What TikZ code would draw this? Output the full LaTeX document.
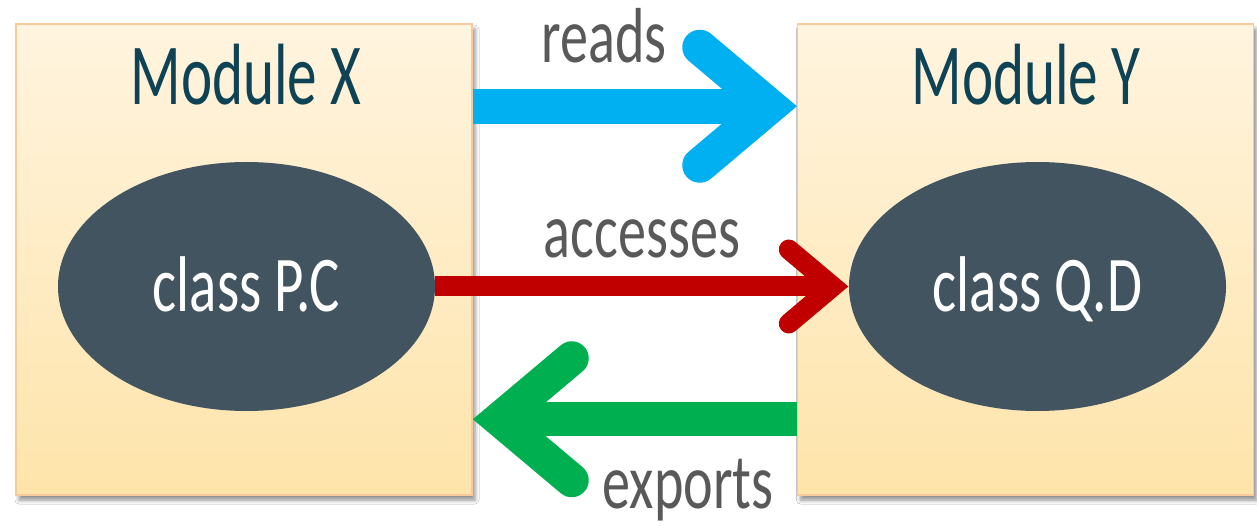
\documentclass[tikz,border=0pt]{standalone}
\usepackage{fontspec}
\setmainfont{Carlito}[FakeStretch=0.72]
\newfontfamily\titlefont{Carlito}[FakeStretch=0.68]
\usetikzlibrary{shapes.geometric,shadows.blur}
\definecolor{modtext}{HTML}{0E4356}
\definecolor{ellfill}{HTML}{41545F}
\definecolor{boxtop}{HTML}{FFF4DF}
\definecolor{boxbot}{HTML}{FEE4AA}
\definecolor{boxline}{HTML}{F8C99A}
\definecolor{lblgray}{HTML}{595959}
\definecolor{ablue}{HTML}{00B0F0}
\definecolor{ared}{HTML}{C00000}
\definecolor{agreen}{HTML}{00B050}
\tikzset{
  module/.style={draw=boxline, line width=1.5pt, top color=boxtop, bottom color=boxbot,
    minimum width=456pt, minimum height=471pt, inner sep=0pt,
    blur shadow={shadow xshift=3pt, shadow yshift=-5pt, shadow blur radius=4pt, shadow opacity=45}},
  modtitle/.style={anchor=base, text=modtext, font=\titlefont\fontsize{87}{90}\selectfont, inner sep=0pt},
  classnode/.style={ellipse, fill=ellfill, minimum width=377pt, minimum height=249pt, inner sep=0pt,
    text=white, font=\fontsize{79}{82}\selectfont, text height=50pt, text depth=0pt},
  lbl/.style={anchor=base, text=lblgray, font=\fontsize{78}{80}\selectfont, inner sep=0pt},
  shaft/.style={line cap=butt},
  barb/.style={line cap=round, line join=miter},
}
\begin{document}
\begin{tikzpicture}[x=1pt,y=-1pt]
\useasboundingbox (0,0) rectangle (1257,526);
\fill[white] (0,0) rectangle (1257,526);

\node[module] (mx) at (244,259.5) {};
\node[module] (my) at (1025.5,259.5) {};

\node[modtitle] (tx) at (246,105) {Module X};
\node[modtitle] (ty) at (1026,105) {Module Y};

\node[classnode] (pc) at (246.5,286.5) {class P.C};
\node[classnode] (qd) at (1037.5,286.5) {class Q.D};

% reads (blue)
\coordinate (bs) at ([yshift=-83pt]mx.north east);
\coordinate (bt) at ([yshift=-83pt]my.north west);
\draw[ablue, line width=35pt, shaft] (bs) -- ([xshift=-22pt]bt);
\draw[ablue, line width=35pt, barb] ([shift={(-97,-59)}]bt) -- ([xshift=-27pt]bt) -- ([shift={(-97,59)}]bt);

% accesses (red)
\draw[ared, line width=20pt, shaft] (pc.east) -- ([xshift=-14pt]qd.west);
\draw[ared, line width=20pt, barb] ([shift={(-60,-37)}]qd.west) -- ([xshift=-16pt]qd.west) -- ([shift={(-60,37)}]qd.west);

% exports (green)
\coordinate (gs) at ([yshift=-396pt]my.north west);
\coordinate (gt) at ([yshift=-396pt]mx.north east);
\draw[agreen, line width=34pt, shaft] (gs) -- ([xshift=22pt]gt);
\draw[agreen, line width=34pt, barb] ([shift={(99,-61)}]gt) -- ([xshift=26.5pt]gt) -- ([shift={(99,61)}]gt);

\node[lbl] (lr) at (604,63) {reads};
\node[lbl] (la) at (642,258) {accesses};
\node[lbl] (le) at (688,508) {exports};
\end{tikzpicture}
\end{document}
